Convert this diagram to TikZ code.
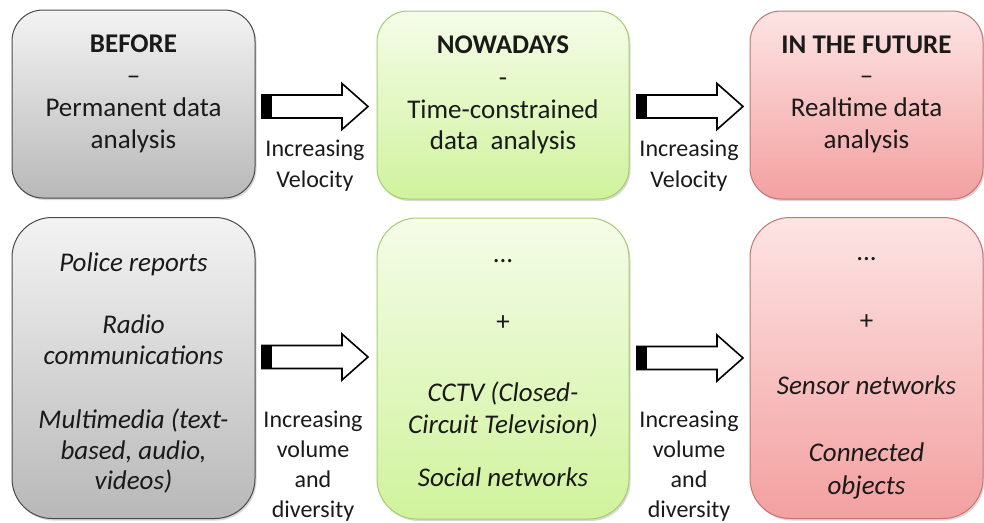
\documentclass[tikz,border=0pt]{standalone}
\usepackage{fontspec}
\setmainfont{Carlito}
\usetikzlibrary{shadows}
\definecolor{grayTop}{HTML}{F3F3F3}
\definecolor{grayBot}{HTML}{B8B8B8}
\definecolor{grayLine}{HTML}{4A4A4A}
\definecolor{greenTop}{HTML}{F5FCE9}
\definecolor{greenBot}{HTML}{D0F39C}
\definecolor{greenLine}{HTML}{A6CC72}
\definecolor{redTop}{HTML}{FDE4E4}
\definecolor{redBot}{HTML}{F3A0A0}
\definecolor{redLine}{HTML}{C67474}
\definecolor{ink}{HTML}{1A1A1A}
\tikzset{
  box/.style={draw, line width=1pt, inner sep=0pt,
    drop shadow={opacity=0.3, shadow xshift=1.5pt, shadow yshift=-2pt}},
  graybox/.style={box, draw=grayLine, top color=grayTop, bottom color=grayBot},
  greenbox/.style={box, draw=greenLine, top color=greenTop, bottom color=greenBot},
  redbox/.style={box, draw=redLine, top color=redTop, bottom color=redBot},
  toprow/.style={minimum height=188pt, rounded corners=31pt},
  botrow/.style={minimum height=301pt, rounded corners=40pt},
  txt/.style={font=\fontsize{24}{30}\selectfont, anchor=base, inner sep=0pt, text=ink},
  btxt/.style={txt, font=\fontsize{27}{32}\selectfont},
  ittxt/.style={txt, font=\fontsize{27}{32}\selectfont\itshape},
  bftxt/.style={txt, font=\fontsize{27}{32}\selectfont\bfseries},
  blockarrow/.pic={
    \filldraw[fill=white, draw=black, line width=1.6pt, line join=miter]
      (0,-11.5) -- (80,-11.5) -- (80,-23) -- (106,0) -- (80,23) -- (80,11.5) -- (0,11.5) -- cycle;
    \fill[black] (0,-11.5) rectangle (10,11.5);
  }
}
\begin{document}
\begin{tikzpicture}[x=1pt, y=-1pt]
\useasboundingbox (0,0) rectangle (984,522);
\fill[white] (0,0) rectangle (984,522);

% boxes
\node[graybox, toprow, minimum width=243pt] (b1) at (133.5,104) {};
\node[greenbox, toprow, minimum width=252pt] (b2) at (503,105) {};
\node[redbox, toprow, minimum width=233pt] (b3) at (866.5,105) {};
\node[graybox, botrow, minimum width=243pt] (c1) at (133.5,368) {};
\node[greenbox, botrow, minimum width=252pt] (c2) at (503,368.5) {};
\node[redbox, botrow, minimum width=233pt] (c3) at (866.5,368) {};

% arrows
\pic (a1) at (262,106.5) {blockarrow};
\pic (a2) at (637,106.5) {blockarrow};
\pic (a3) at (262,357) {blockarrow};
\pic (a4) at (637,358) {blockarrow};

% top row texts
\node[bftxt] (t1a) at (133.5,52) {BEFORE};
\node[btxt] (t1b) at (133.5,84) {–};
\node[btxt] (t1c) at (133.5,116) {Permanent data};
\node[btxt] (t1d) at (133.5,148) {analysis};

\node[bftxt] (t2a) at (503,53) {NOWADAYS};
\node[btxt] (t2b) at (503,86) {-};
\node[btxt] (t2c) at (503,118) {Time-constrained};
\node[btxt] (t2d) at (503,149) {data~ analysis};

\node[bftxt] (t3a) at (866.5,53) {IN THE FUTURE};
\node[btxt] (t3b) at (866.5,84) {–};
\node[btxt] (t3c) at (866.5,116) {Realtime data};
\node[btxt] (t3d) at (866.5,148) {analysis};

% arrow labels
\node[txt] (l1a) at (315,156) {Increasing};
\node[txt] (l1b) at (315,187) {Velocity};
\node[txt] (l2a) at (689,156) {Increasing};
\node[txt] (l2b) at (689,187) {Velocity};

\node[txt] (l3a) at (313,427) {Increasing};
\node[txt] (l3b) at (313,457) {volume};
\node[txt] (l3c) at (313,487) {and};
\node[txt] (l3d) at (313,517) {diversity};
\node[txt] (l4a) at (689,427) {Increasing};
\node[txt] (l4b) at (689,457) {volume};
\node[txt] (l4c) at (689,487) {and};
\node[txt] (l4d) at (689,517) {diversity};

% bottom row texts
\node[ittxt] (u1a) at (133.5,271) {Police reports};
\node[ittxt] (u1b) at (133.5,333) {Radio};
\node[ittxt] (u1c) at (133.5,364) {communications};
\node[ittxt] (u1d) at (133.5,428) {Multimedia (text-};
\node[ittxt] (u1e) at (133.5,459) {based, audio,};
\node[ittxt] (u1f) at (133.5,489) {videos)};

\node[btxt] (u2a) at (503,262) {...};
\node[btxt] (u2b) at (503,330) {+};
\node[ittxt] (u2c) at (503,401) {CCTV (Closed-};
\node[ittxt] (u2d) at (503,433) {Circuit Television)};
\node[ittxt] (u2e) at (503,486) {Social networks};

\node[btxt] (u3a) at (866.5,260) {...};
\node[btxt] (u3b) at (866.5,329) {+};
\node[ittxt] (u3c) at (866.5,394) {Sensor networks};
\node[ittxt] (u3d) at (866.5,461) {Connected};
\node[ittxt] (u3e) at (866.5,494) {objects};
\end{tikzpicture}
\end{document}
